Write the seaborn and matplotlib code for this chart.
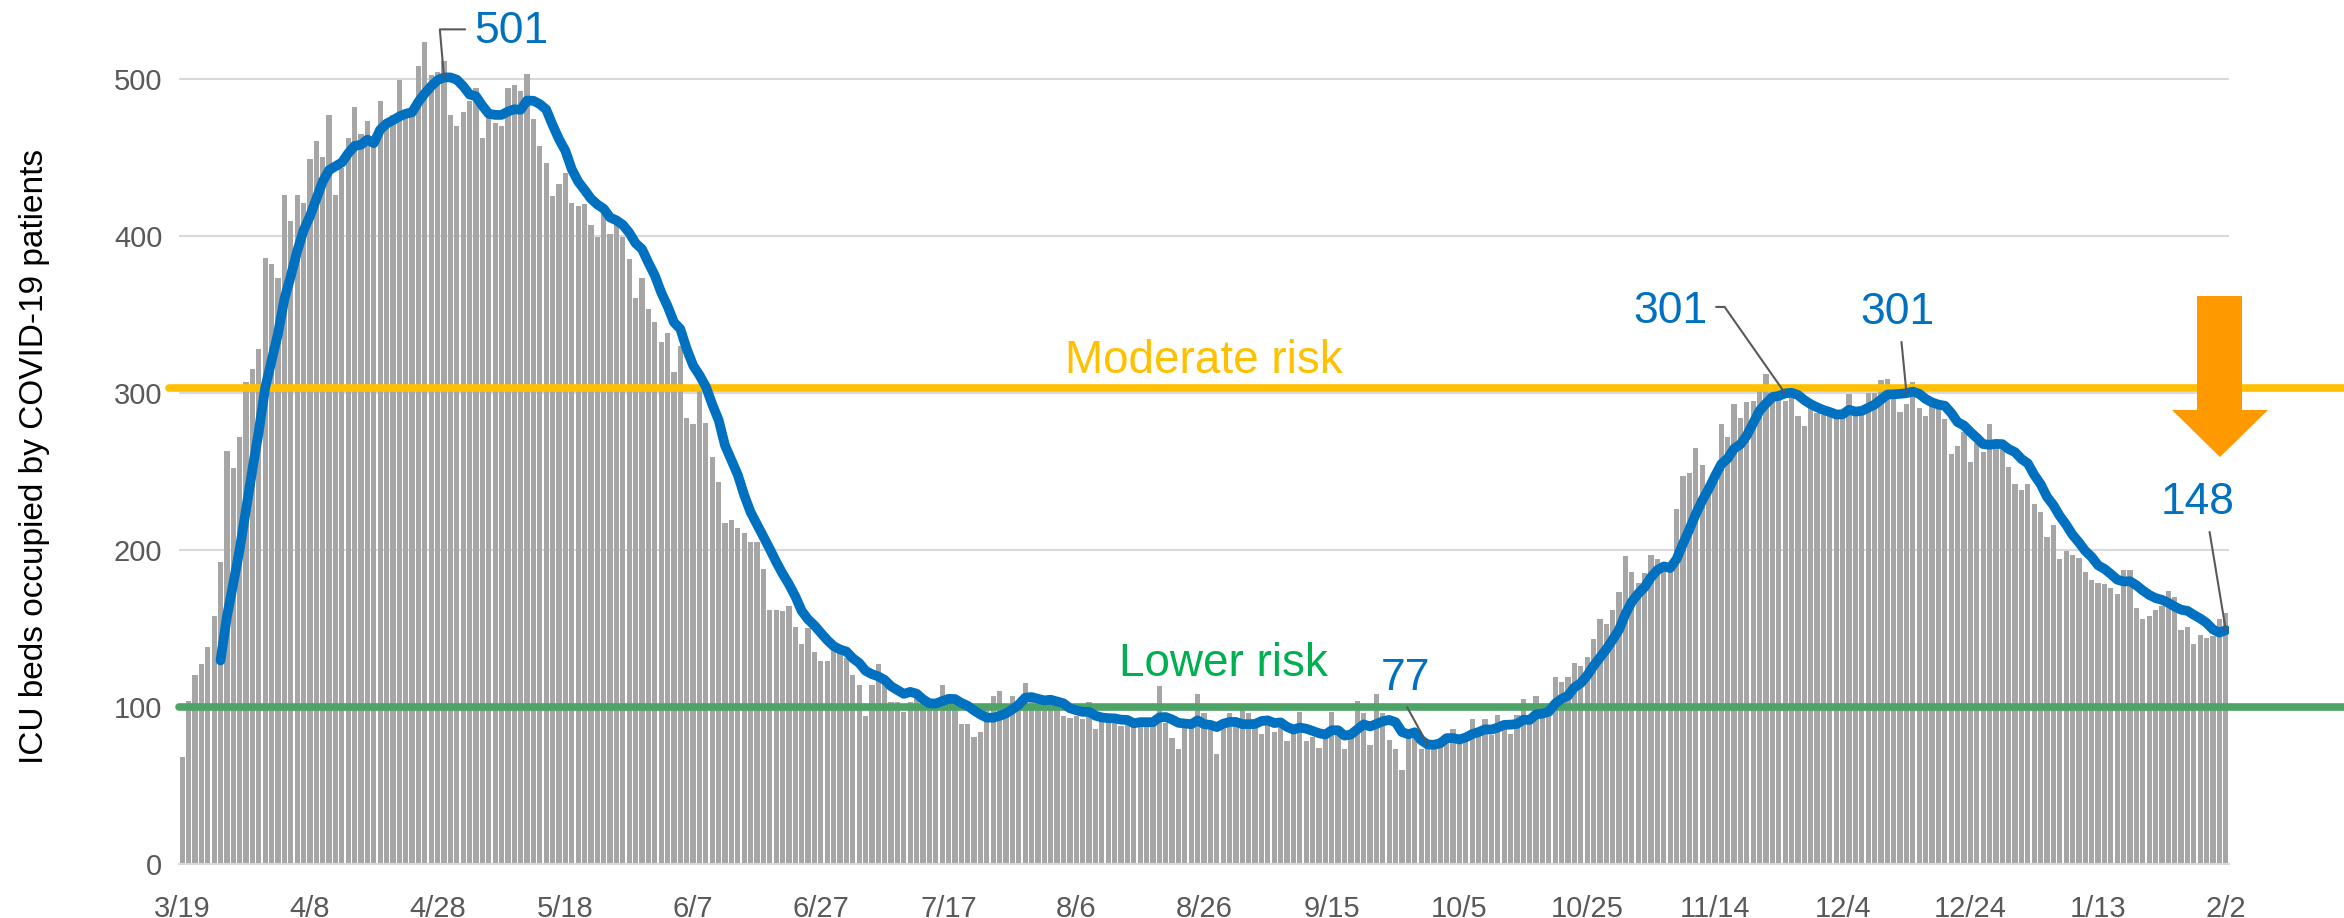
import numpy as np
import pandas as pd
import seaborn as sns
import matplotlib.pyplot as plt
from matplotlib.patches import Polygon

# daily ICU beds occupied by COVID-19 patients, 3/19 .. 2/2
mar = [68, 104, 120, 127, 138, 158, 192, 263, 252, 272, 307, 315, 328]
apr = [386, 382, 373, 426, 409, 426, 421, 449, 460, 450, 477, 426, 443, 462, 482,
       465, 473, 461, 486, 470, 477, 499, 477, 480, 508, 523, 502, 504, 511, 477]
may = [470, 479, 486, 494, 462, 475, 472, 470, 494, 496, 492, 503, 474, 457, 446, 425,
       433, 440, 421, 419, 420, 407, 399, 414, 401, 408, 399, 385, 360, 373, 353]
jun = [345, 332, 338, 313, 330, 284, 280, 301, 281, 259, 243, 217, 219, 214, 211,
       205, 205, 188, 162, 162, 161, 164, 151, 140, 150, 135, 129, 129, 137, 136]
jul = [131, 120, 114, 94, 114, 127, 120, 103, 103, 97, 103, 106, 102, 102, 102, 114,
       107, 102, 89, 89, 81, 84, 100, 107, 110, 100, 107, 102, 115, 103, 99]
aug = [103, 103, 99, 94, 93, 94, 92, 103, 86, 91, 91, 92, 88, 91, 88, 91,
       91, 91, 113, 90, 80, 73, 88, 88, 108, 96, 87, 70, 88, 96, 88]
sep = [98, 96, 88, 83, 91, 84, 91, 78, 84, 97, 78, 81, 74, 85, 97,
       84, 73, 83, 104, 96, 76, 108, 96, 79, 73, 60, 86, 85, 73, 77]
oct_ = [77, 80, 83, 86, 79, 82, 92, 86, 92, 82, 95, 91, 83, 95, 105, 91,
        107, 98, 100, 119, 116, 119, 128, 126, 132, 143, 156, 153, 162, 173, 196]
nov = [186, 179, 185, 197, 194, 189, 189, 226, 247, 249, 265, 254, 240, 247, 280,
       272, 293, 284, 294, 295, 302, 312, 301, 298, 295, 297, 285, 279, 294, 287]
dec = [286, 286, 286, 286, 299, 286, 290, 300, 300, 308, 309, 300, 288, 293, 307, 290,
       285, 294, 290, 283, 261, 266, 275, 256, 268, 262, 280, 265, 265, 253, 242]
jan = [238, 242, 229, 224, 208, 216, 194, 199, 197, 195, 186, 181, 179, 178, 176, 172,
       187, 187, 163, 156, 158, 162, 164, 174, 170, 149, 151, 140, 146, 144, 145]
feb = [156, 160]

icu_beds = mar + apr + may + jun + jul + aug + sep + oct_ + nov + dec + jan + feb

tick_labels = ["3/19", "4/8", "4/28", "5/18", "6/7", "6/27", "7/17", "8/6", "8/26",
               "9/15", "10/5", "10/25", "11/14", "12/4", "12/24", "1/13", "2/2"]

moderate_risk = 303
lower_risk = 100

# callouts on the 7-day average: (day index, label)
callouts = [(41, "501"), (195, "77"), (251, "301"), (270, "301"), (320, "148")]

df = pd.DataFrame({"day": np.arange(len(icu_beds)), "beds": icu_beds})
df["avg7"] = df["beds"].rolling(7).mean()

sns.set_style("white")
plt.rcParams["font.family"] = ["Liberation Sans", "DejaVu Sans"]

W, H = 2344, 918
fig = plt.figure(figsize=(W / 100, H / 100), dpi=100)
ax = fig.add_axes([179 / W, 1 - 864 / H, 2050 / W, 864 / H])

sns.barplot(data=df, x="day", y="beds", color="#A6A6A6", saturation=1,
            width=0.82, errorbar=None, linewidth=0, edgecolor="none", ax=ax, zorder=2)

ax.axhline(moderate_risk, xmin=-0.005, xmax=1.06, color="#FFC000", lw=5.5,
           clip_on=False, zorder=3)
ax.axhline(lower_risk, xmin=0.0, xmax=1.06, color="#4EA466", lw=5.5,
           clip_on=False, zorder=3)

sns.lineplot(data=df, x="day", y="avg7", color="#0070C0", lw=7, ax=ax, zorder=4)
ax.lines[-1].set_solid_capstyle("round")

ax.set_ylim(0, 550)
ax.set_xlim(-0.5, len(icu_beds) - 0.5)
ax.set_yticks(range(0, 501, 100))
ax.yaxis.grid(True, color="#D9D9D9", lw=1.5)
ax.set_axisbelow(True)
ax.set_xticks(range(0, len(icu_beds), 20))
ax.set_xticklabels(tick_labels)
ax.tick_params(axis="both", length=0, labelsize=21, labelcolor="#595959")
ax.tick_params(axis="y", pad=12)
ax.tick_params(axis="x", pad=22)
for s in ["top", "right", "left"]:
    ax.spines[s].set_visible(False)
ax.spines["bottom"].set_color("#D9D9D9")
ax.spines["bottom"].set_linewidth(1.5)

ax.set_xlabel("")
ax.set_ylabel("ICU beds occupied by COVID-19 patients", fontsize=24, color="black")
ax.yaxis.set_label_coords(-0.063, 0.472)

ax.text(160, 320, "Moderate risk", color="#FFC000", fontsize=33, ha="center", va="center")
ax.text(163, 127, "Lower risk", color="#00B050", fontsize=33, ha="center", va="center")

# label positions (data units) and leader styles
label_pos = {41: (51.5, 530), 195: (191.5, 118), 251: (233, 352), 270: (268.5, 351), 320: (315.5, 230)}
leader = {
    41: dict(relpos=(0, 0.55), connectionstyle="angle,angleA=0,angleB=95,rad=0"),
    195: dict(relpos=(0.45, 0), connectionstyle="arc3"),
    251: dict(relpos=(1, 0.6), connectionstyle="angle,angleA=0,angleB=125,rad=0"),
    270: dict(relpos=(0.55, 0), connectionstyle="arc3"),
    320: dict(relpos=(0.65, 0), connectionstyle="arc3"),
}
for d, lab in callouts:
    y = df.loc[d, "avg7"]
    ax.annotate(lab, xy=(d, y), xytext=label_pos[d], textcoords="data",
                color="#0070C0", fontsize=32, ha="center", va="center",
                arrowprops=dict(arrowstyle="-", color="#595959", lw=1.5,
                                shrinkA=4, shrinkB=0, **leader[d]),
                zorder=6, annotation_clip=False)

# big orange "decreasing" arrow (figure pixels -> inches)
arrow_px = [(2197, 296), (2242, 296), (2242, 410), (2268, 410), (2220, 457),
            (2172, 410), (2197, 410)]
arrow_in = [(x / 100, (H - y) / 100) for x, y in arrow_px]
fig.add_artist(Polygon(arrow_in, closed=True, facecolor="#FF9900", edgecolor="none",
                       transform=fig.dpi_scale_trans, zorder=7))

fig.savefig("out.png", dpi=100)
